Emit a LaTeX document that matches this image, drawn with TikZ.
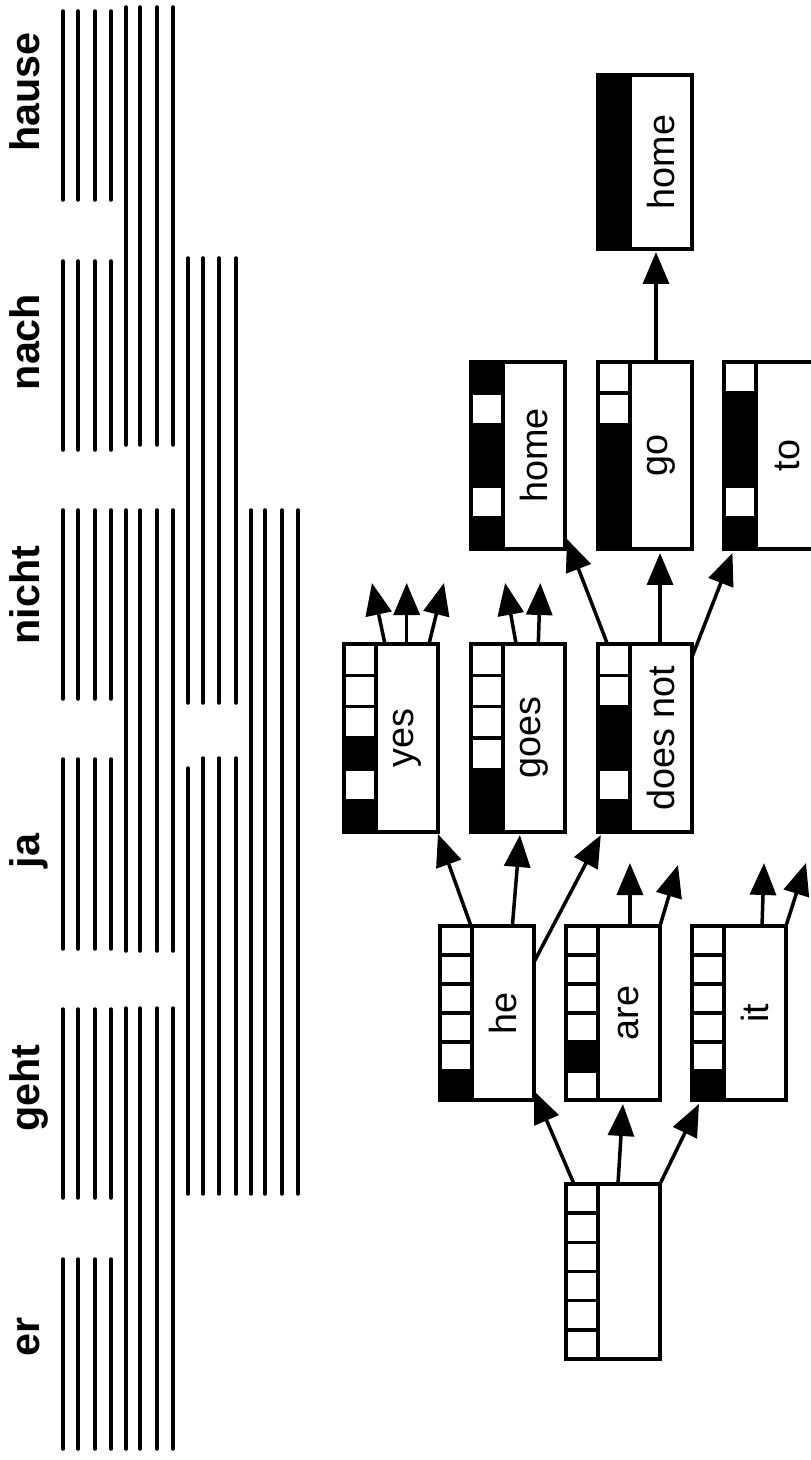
\documentclass[tikz,border=0pt]{standalone}
\usepackage{fontspec}
\setmainfont{Liberation Sans}
\usetikzlibrary{arrows.meta,calc}

\tikzset{
  hyp/.style={draw, line width=2pt, rectangle, minimum width=1.88cm, inner sep=0pt, outer sep=0pt},
  cellline/.style={line width=2pt},
  word/.style={rotate=90, inner sep=0pt, font=\fontsize{21.5}{24}\selectfont},
  src/.style={rotate=90, anchor=base, inner sep=0pt, font=\bfseries\fontsize{23.5}{26}\selectfont},
  bar/.style={line width=2pt, line cap=round},
  edge/.style={line width=2pt, -{Triangle[length=0.64cm,width=0.52cm]}},
}

% box: name, left, top, length, word, cells er..hause
\newcommand{\hypo}[6]{%
  \node[hyp, minimum height=#4*0.02cm, anchor=north west] (#1) at (#2,#3) {};
  \foreach \c [count=\i from 0] in {#6} {
    \ifnum\c=1
      \fill ($(#1.south west)+(0,-\i*#4/6)$) rectangle ($(#1.south west)+(32,-\i*#4/6-#4/6)$);
    \fi
  }
  \foreach \i in {1,...,5}
    \draw[cellline] ($(#1.south west)+(0,-\i*#4/6)$) -- ++(32,0);
  \draw[cellline] ($(#1.south west)+(32,0)$) -- ($(#1.north west)+(32,0)$);
  \node[word] (#1-w) at ($(#1.center)+(16,0)$) {#5};
}

\begin{document}
\begin{tikzpicture}[x=0.02cm, y=-0.02cm]
\useasboundingbox (0,0) rectangle (811,1460);

% source words
\node[src] (er) at (39,1337) {er};
\node[src] (geht) at (39,1088) {geht};
\node[src] (ja) at (39,851) {ja};
\node[src] (nicht) at (39,595) {nicht};
\node[src] (nach) at (39,342) {nach};
\node[src] (hause) at (39,92) {hause};

% phrase spans
\foreach \x in {63,78,95,111}
  \foreach \t/\b in {11/200, 261/450, 510/699, 759/949, 1009/1198, 1259/1449}
    \draw[bar] (\x,\t) -- (\x,\b);
\foreach \x in {126,140,157,173}
  \foreach \t/\b in {7/445, 510/951, 1008/1449}
    \draw[bar] (\x,\t) -- (\x,\b);
\foreach \x/\s in {188/768, 203/758, 219/758, 236/758} {
  \draw[bar] (\x,258) -- (\x,703);
  \draw[bar] (\x,\s) -- (\x,1194);
}
\foreach \x in {251,265,282,298}
  \draw[bar] (\x,510) -- (\x,1194);

% hypotheses
\hypo{root}{566}{1184}{175}{}{0,0,0,0,0,0}
\hypo{he}{440}{926}{174}{he}{1,0,0,0,0,0}
\hypo{are}{566}{926}{174}{are}{0,1,0,0,0,0}
\hypo{it}{692}{926}{174}{it}{1,0,0,0,0,0}
\hypo{yes}{344}{644}{188}{yes}{1,0,1,0,0,0}
\hypo{goes}{471}{644}{188}{goes}{1,1,0,0,0,0}
\hypo{doesnot}{598}{644}{188}{does not}{1,0,1,1,0,0}
\hypo{home}{471}{362}{187}{home}{1,0,1,1,0,1}
\hypo{go}{598}{362}{187}{go}{1,1,1,1,0,0}
\hypo{tobox}{724}{362}{187}{to}{1,0,1,1,1,0}
\hypo{homeend}{598}{75}{174}{home}{1,1,1,1,1,1}

% expansions
\draw[edge] ($(root.north west)!0.085!(root.north east)$) -- ($(he.south east)+(0,-9)$);
\draw[edge] ($(root.north west)!0.553!(root.north east)$) -- ($(are.south west)!0.606!(are.south east)+(0,4)$);
\draw[edge] (root.north east) -- ($(it.south west)!0.074!(it.south east)+(0,4)$);

\draw[edge] ($(he.north west)!0.33!(he.north east)$) -- ($(yes.south east)+(0,2)$);
\draw[edge] ($(he.north west)!0.77!(he.north east)$) -- ($(goes.south west)!0.52!(goes.south east)+(0,3)$);
\draw[edge] ($(he.north east)+(0,36)$) -- ($(doesnot.south west)!0.03!(doesnot.south east)+(0,3)$);

\coordinate (are-a) at ($(are.north west)!0.68!(are.north east)+(0,-63)$);
\coordinate (are-b) at ($(are.north east)+(18,-61)$);
\draw[edge] ($(are.north west)!0.68!(are.north east)$) -- (are-a);
\draw[edge] (are.north east) -- (are-b);

\coordinate (it-a) at ($(it.north west)!0.745!(it.north east)+(2,-63)$);
\coordinate (it-b) at ($(it.north east)+(20,-63)$);
\draw[edge] ($(it.north west)!0.745!(it.north east)$) -- (it-a);
\draw[edge] (it.north east) -- (it-b);

\coordinate (yes-a) at ($(yes.north west)!0.436!(yes.north east)+(-13,-61)$);
\coordinate (yes-b) at ($(yes.north west)!0.667!(yes.north east)+(0,-61)$);
\coordinate (yes-c) at ($(yes.north west)!0.904!(yes.north east)+(15,-61)$);
\draw[edge] ($(yes.north west)!0.436!(yes.north east)$) -- (yes-a);
\draw[edge] ($(yes.north west)!0.667!(yes.north east)$) -- (yes-b);
\draw[edge] ($(yes.north west)!0.904!(yes.north east)$) -- (yes-c);

\coordinate (goes-a) at ($(goes.north west)!0.48!(goes.north east)+(-11,-61)$);
\coordinate (goes-b) at ($(goes.north west)!0.716!(goes.north east)+(2,-61)$);
\draw[edge] ($(goes.north west)!0.48!(goes.north east)$) -- (goes-a);
\draw[edge] ($(goes.north west)!0.716!(goes.north east)$) -- (goes-b);

\draw[edge] ($(doesnot.north west)!0.1!(doesnot.north east)$) -- ($(home.south east)+(2,-10)$);
\draw[edge] ($(doesnot.north west)!0.66!(doesnot.north east)$) -- ($(go.south west)!0.66!(go.south east)+(0,4)$);
\draw[edge] ($(doesnot.north east)+(0,13)$) -- ($(tobox.south west)!0.09!(tobox.south east)+(0,4)$);

\draw[edge] ($(go.north west)!0.617!(go.north east)$) -- ($(homeend.south west)!0.617!(homeend.south east)+(0,3)$);
\end{tikzpicture}
\end{document}
